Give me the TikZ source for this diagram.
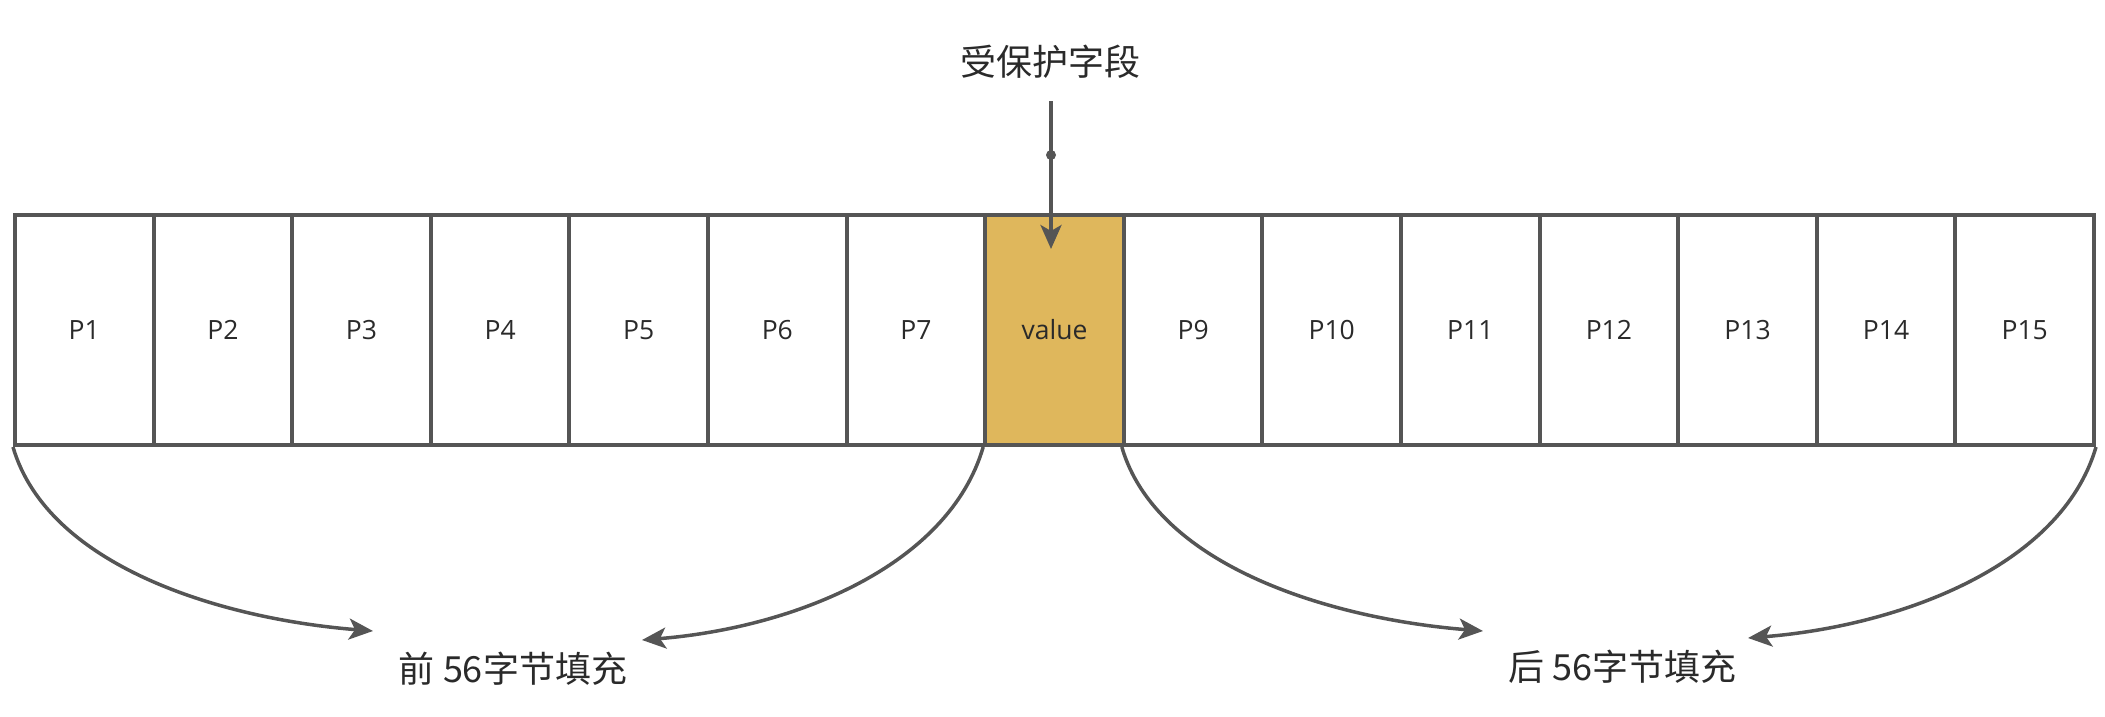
\documentclass[tikz,border=0pt]{standalone}
\usepackage{fontspec}
\setmainfont{Open Sans}
\newfontfamily\cjk{Noto Sans CJK SC}
\usetikzlibrary{arrows.meta}
\definecolor{ln}{HTML}{555555}
\definecolor{gold}{HTML}{DFB75C}
\definecolor{txt}{HTML}{2A2A2A}
\begin{document}
\begin{tikzpicture}[x=1pt,y=-1pt,
 cell/.style={draw=ln, line width=4pt, minimum width=138.6pt, minimum height=230pt, inner sep=0pt, anchor=north west, font=\fontsize{26.5}{30}\selectfont, text=txt},
 lbl/.style={font=\cjk\fontsize{36}{40}\selectfont, text=txt, inner sep=0pt},
 conn/.style={draw=ln, line width=3.5pt, -{Stealth[length=24pt,width=21pt,inset=6pt]}}]
\useasboundingbox (0,0) rectangle (2105,716);
\foreach \i/\t in {1/P1,2/P2,3/P3,4/P4,5/P5,6/P6,7/P7,9/P9,10/P10,11/P11,12/P12,13/P13,14/P14,15/P15}{
  \node[cell] (c\i) at ({13+(\i-1)*138.6},213) {\t};
}
\node[cell, fill=gold] (c8) at ({13+7*138.6},213) {value};
\node[lbl] (title) at (1050,62) {受保护字段};
\node[lbl] (lab1) at (513,669) {前 56字节填充};
\node[lbl] (lab2) at (1622,667) {后 56字节填充};
\coordinate (src) at (1051,101);
\coordinate (dot) at (1051,155);
\coordinate (tip) at (1051,249);
\coordinate (t1) at (373,631);
\coordinate (t2) at (642,640);
\coordinate (t3) at (1483,631);
\coordinate (t4) at (1748,638);
\draw[conn] (src) -- (tip);
\fill[ln] (dot) circle (5pt);
\draw[conn] (c1.south west) .. controls +(35,120) and +(-150,-12) .. (t1);
\draw[conn] (c8.south west) .. controls +(-35,120) and +(150,-12) .. (t2);
\draw[conn] (c9.south west) .. controls +(35,120) and +(-150,-12) .. (t3);
\draw[conn] (c15.south east) .. controls +(-35,120) and +(150,-12) .. (t4);
\end{tikzpicture}
\end{document}
